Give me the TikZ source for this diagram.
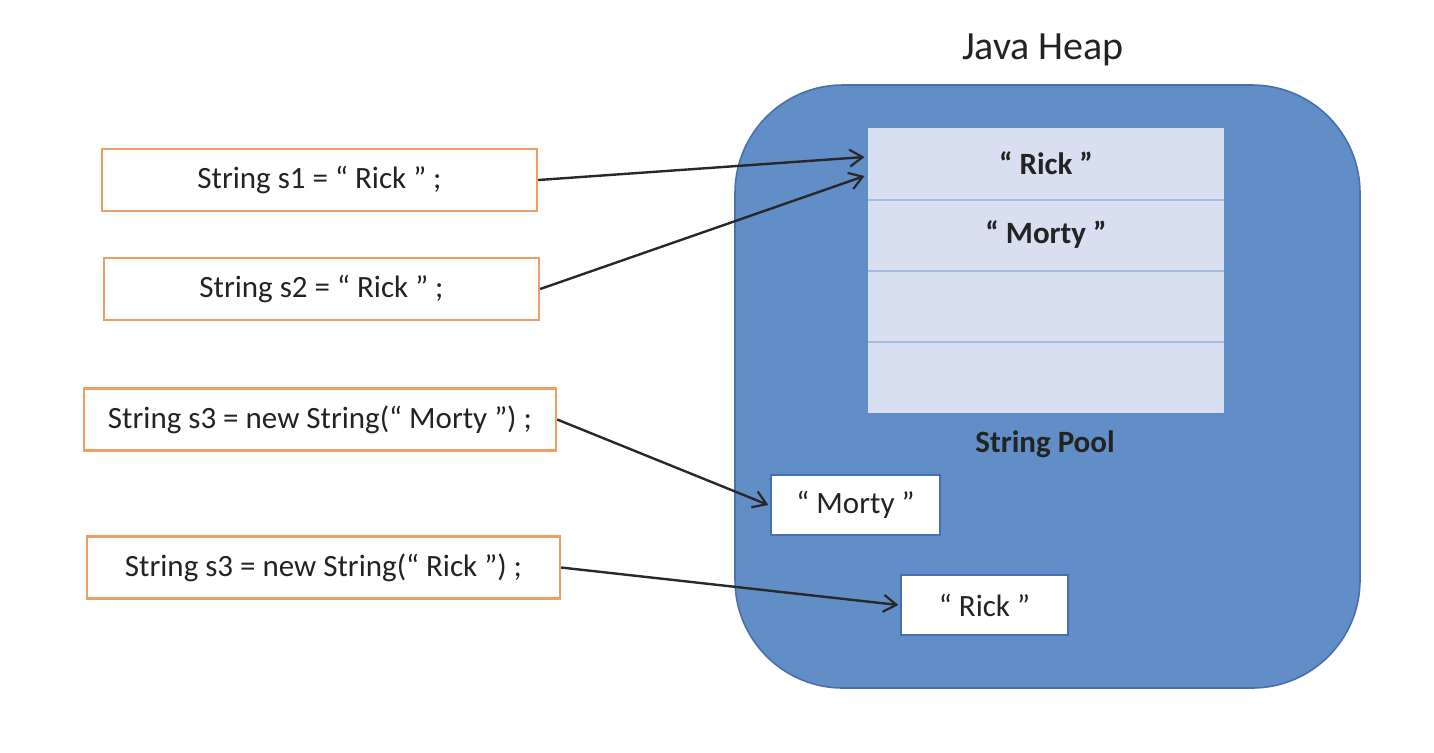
\documentclass[tikz,border=0pt]{standalone}
\usepackage{fontspec}
\setmainfont{Carlito}
\usetikzlibrary{arrows.meta}
\definecolor{heapblue}{RGB}{98,142,200}
\definecolor{heapedge}{RGB}{72,112,172}
\definecolor{poolfill}{RGB}{216,223,240}
\definecolor{poolline}{RGB}{160,188,225}
\definecolor{codeorange}{RGB}{237,158,100}
\definecolor{arrowgray}{RGB}{40,40,40}
\definecolor{textgray}{RGB}{35,35,35}
\definecolor{boxedge}{RGB}{70,110,180}
\begin{document}
\begin{tikzpicture}[x=0.5pt,y=-0.5pt,
  codebox/.style={draw=codeorange,line width=1.2pt,fill=white,minimum height=31pt,inner sep=0pt,
    font=\fontsize{15.5}{18}\selectfont,text=textgray},
  heapshape/.style={draw=heapedge,line width=0.8pt,fill=heapblue,rounded corners=54pt,inner sep=0pt},
  poolrow/.style={fill=poolfill,minimum width=178pt,minimum height=35.625pt,inner sep=0pt,
    font=\bfseries\fontsize{15.5}{18}\selectfont,text=textgray},
  objbox/.style={draw=boxedge,line width=0.6pt,fill=white,minimum height=30pt,inner sep=0pt,
    font=\fontsize{15.5}{18}\selectfont,text=textgray},
  sep/.style={draw=poolline,line width=1pt},
  ref/.style={-{Straight Barb[length=6.5pt,width=8.5pt,line width=1.1pt]},line width=1.2pt,draw=arrowgray}]
\useasboundingbox (0,0) rectangle (1434,752);
% heap
\node[heapshape,minimum width=312.5pt,minimum height=301.5pt] (heap) at (1047.5,386.5) {};
\node[font=\fontsize{20}{24}\selectfont,text=textgray] (title) at (1043,50) {Java Heap};
% string pool
\node[poolrow] (r1) at (1046,163.6) {“ Rick ”};
\node[poolrow] (r2) at (1046,234.9) {“ Morty ”};
\node[poolrow] (r3) at (1046,306.1) {};
\node[poolrow] (r4) at (1046,377.4) {};
\draw[sep] (r1.south west) -- (r1.south east);
\draw[sep] (r2.south west) -- (r2.south east);
\draw[sep] (r3.south west) -- (r3.south east);
\node[font=\bfseries\fontsize{15.5}{18}\selectfont,text=textgray] (poollabel) at (1045,444) {String Pool};
% heap objects
\node[objbox,minimum width=84.5pt] (mo) at (855.5,505) {“ Morty ”};
\node[objbox,minimum width=83.5pt] (rk) at (984.5,605) {“ Rick ”};
% code boxes
\node[codebox,minimum width=217.5pt] (s1) at (319.5,180) {String s1 = “ Rick ” ;};
\node[codebox,minimum width=217.5pt] (s2) at (321.5,289) {String s2 = “ Rick ” ;};
\node[codebox,minimum width=236pt] (s3) at (320,419.5) {String s3 = new String(“ Morty ”) ;};
\node[codebox,minimum width=236.5pt] (s4) at (323.5,567.5) {String s3 = new String(“ Rick ”) ;};
% references
\draw[ref] (s1.east) -- ([xshift=-1.5pt,yshift=3.3pt]r1.west);
\draw[ref] (s2.east) -- ([xshift=-1.5pt,yshift=-6.2pt]r1.west);
\draw[ref] (s3.east) -- ([xshift=-1pt]mo.west);
\draw[ref] (s4.east) -- ([xshift=-1pt]rk.west);
\end{tikzpicture}
\end{document}
